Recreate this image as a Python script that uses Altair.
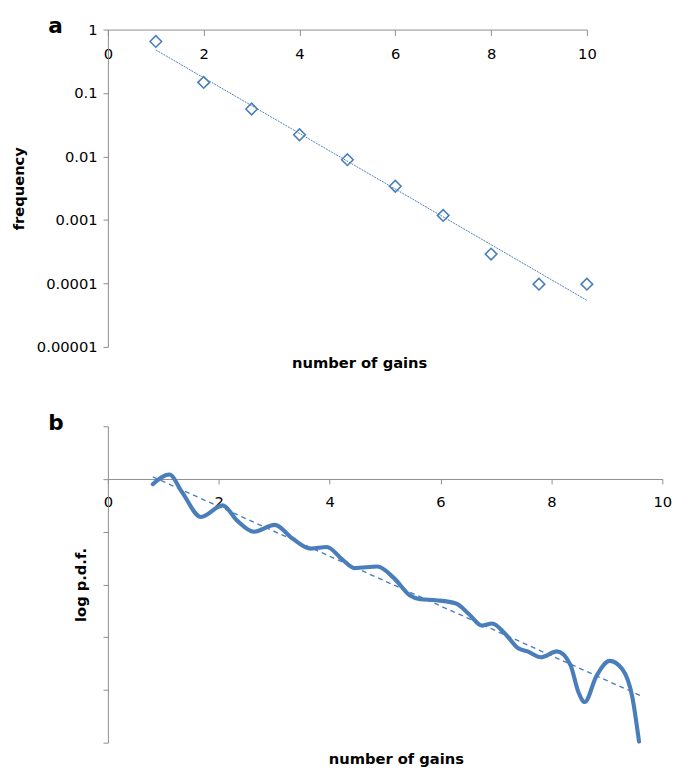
import altair as alt
import pandas as pd

# ---- panel a data ----
gains = [1, 2, 3, 4, 5, 6, 7, 8, 9, 10]
frequency = [0.65, 0.147, 0.056, 0.022, 0.0089, 0.0034, 0.00118, 0.00029, 0.0000975, 0.0000975]

# ---- panel b data ----
curve_x = [0.81, 1.11, 1.33, 1.68, 2.07, 2.33, 2.63, 3.01, 3.33, 3.66, 3.95, 4.22, 4.45,
           4.86, 5.16, 5.45, 5.63, 5.92, 6.28, 6.51, 6.75, 6.93, 7.16, 7.40, 7.57, 7.81,
           8.10, 8.34, 8.49, 8.60, 8.81, 9.05, 9.28, 9.46, 9.58]
curve_y = [-0.10, 0.085, -0.236, -0.72, -0.50, -0.79, -1.00, -0.87, -1.13, -1.32, -1.29,
           -1.52, -1.69, -1.66, -1.88, -2.21, -2.28, -2.30, -2.36, -2.56, -2.78, -2.74,
           -2.93, -3.21, -3.27, -3.38, -3.27, -3.52, -4.05, -4.23, -3.74, -3.45, -3.61,
           -4.14, -4.98]
trend_b_x = [0.81, 9.61]
trend_b_y = [0.04, -4.11]

x_ticks = [0, 2, 4, 6, 8, 10]
freq_ticks = [1, 0.1, 0.01, 0.001, 0.0001, 0.00001]
pdf_ticks = [1, 0, -1, -2, -3, -4, -5]

FONT = "DejaVu Sans"
BLUE = "#4A7EBB"
AX = "#8C8C8C"

W1, H1 = 489, 324
W2, H2 = 566, 323

df_a = pd.DataFrame({"gains": gains, "frequency": frequency})
df_b = pd.DataFrame({"x": curve_x, "y": curve_y})
df_bt = pd.DataFrame({"x": trend_b_x, "y": trend_b_y})

xa = alt.X("gains:Q", scale=alt.Scale(domain=[0, 10], nice=False),
           axis=alt.Axis(orient="bottom", offset=-H1, values=x_ticks, tickSize=6,
                         labelPadding=12, labelFlush=False, title="number of gains",
                         titleX=W1 / 2 + 12, titleY=340, titleBaseline="middle"))
ya = alt.Y("frequency:Q", scale=alt.Scale(type="log", domain=[1e-5, 1], nice=False),
           axis=alt.Axis(values=freq_ticks, format=".5~f", title="frequency",
                         titleX=-91, titleY=H1 / 2, titleAlign="center",
                         titleBaseline="middle", tickSize=5, labelPadding=6))

points = alt.Chart(df_a).mark_point(shape="diamond", filled=False, size=140,
                                   strokeWidth=1.6, color=BLUE, opacity=1).encode(x=xa, y=ya)

trend_a = (alt.Chart(df_a)
           .transform_calculate(ly="log(datum.frequency)/LN10")
           .transform_regression("gains", "ly", extent=[1, 10])
           .transform_calculate(frequency="pow(10, datum.ly)")
           .mark_line(strokeDash=[2, 1], strokeWidth=1, color=BLUE)
           .encode(x=xa, y=ya))

panel_a = alt.layer(trend_a, points).properties(
    width=W1, height=H1,
    title=alt.TitleParams("a", anchor="start", frame="group", fontSize=22, font=FONT,
                          fontWeight="bold", dx=-61, offset=-16))

xb = alt.X("x:Q", scale=alt.Scale(domain=[0, 10], nice=False),
           axis=alt.Axis(orient="bottom", offset=-H2 * 5 / 6, values=x_ticks, tickSize=5,
                         labelPadding=11, labelFlush=False, title="number of gains",
                         titleX=W2 / 2 + 11, titleY=285, titleBaseline="middle"))
yb = alt.Y("y:Q", scale=alt.Scale(domain=[-5, 1], nice=False),
           axis=alt.Axis(values=pdf_ticks, labels=False, title="log p.d.f.",
                         titleX=-28, titleY=H2 / 2, titleAlign="center",
                         titleBaseline="middle", tickSize=5))

curve = alt.Chart(df_b).mark_line(interpolate="monotone", strokeWidth=4.2, color=BLUE,
                                  strokeCap="round").encode(x=xb, y=yb)
trend_b = alt.Chart(df_bt).mark_line(strokeDash=[5, 4], strokeWidth=1.4,
                                     color=BLUE).encode(x=xb, y=yb)

panel_b = alt.layer(trend_b, curve).properties(
    width=W2, height=H2,
    title=alt.TitleParams("b", anchor="start", frame="group", fontSize=22, font=FONT,
                          fontWeight="bold", dx=-61, offset=-9))

chart = (alt.vconcat(panel_a, panel_b, spacing=42)
         .configure(padding={"left": 4, "right": 5, "top": 0, "bottom": 0})
         .configure_view(stroke=None)
         .configure_axis(labelFont=FONT, titleFont=FONT, labelFontSize=15, titleFontSize=15,
                         titleFontWeight="bold", labelColor="black", titleColor="black",
                         domainColor=AX, tickColor=AX, grid=False))

chart.save("out.html", embed_options={"renderer": "svg", "actions": False})
